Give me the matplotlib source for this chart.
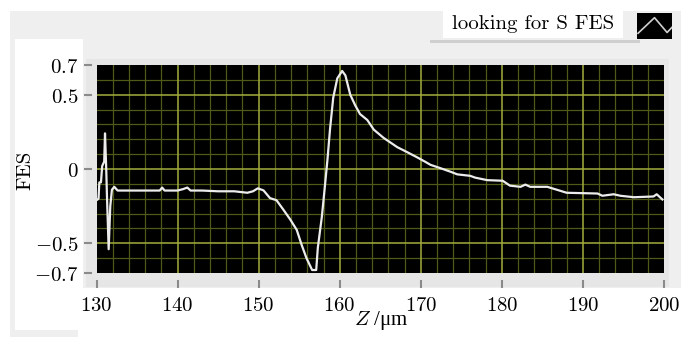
import matplotlib
matplotlib.use("Agg")
import matplotlib.pyplot as plt
from matplotlib.patches import Rectangle
from matplotlib.ticker import MultipleLocator, FixedLocator

plt.rcParams['mathtext.fontset'] = 'cm'

# Focus error signal scan
z_um = [130.0, 130.25, 130.35, 130.55, 130.7, 130.95, 131.05, 131.2, 131.3, 131.5,
        131.7, 131.9, 132.2, 132.6, 134.0, 136.0, 137.8, 138.1, 138.4, 140.0,
        140.7, 141.2, 141.6, 143.0, 145.0, 147.0, 148.6, 149.3, 149.9, 150.6,
        151.4, 152.2, 153.0, 153.9, 154.7, 155.3, 155.9, 156.6, 157.1, 157.3,
        157.8, 158.2, 158.5, 158.8, 159.2, 159.7, 160.3, 160.7, 161.3, 161.9,
        162.5, 163.4, 164.2, 165.4, 167.1, 168.3, 169.5, 170.5, 171.2, 172.4,
        173.7, 174.5, 176.1, 176.7, 178.2, 180.1, 181.0, 182.3, 182.9, 183.5,
        185.6, 186.8, 188.0, 191.8, 192.4, 193.8, 194.6, 196.3, 198.7, 199.1,
        199.8]
fes = [-0.21, -0.20, -0.09, -0.09, 0.02, 0.05, 0.24, 0.0, -0.20, -0.54,
       -0.25, -0.14, -0.12, -0.145, -0.145, -0.145, -0.145, -0.125, -0.145, -0.145,
       -0.135, -0.125, -0.145, -0.145, -0.15, -0.15, -0.16, -0.15, -0.13, -0.144,
       -0.196, -0.21, -0.27, -0.34, -0.41, -0.51, -0.60, -0.68, -0.68, -0.53,
       -0.32, -0.10, 0.07, 0.265, 0.48, 0.61, 0.66, 0.63, 0.50, 0.43,
       0.37, 0.33, 0.265, 0.21, 0.147, 0.114, 0.08, 0.05, 0.028, 0.006,
       -0.019, -0.036, -0.046, -0.058, -0.075, -0.079, -0.112, -0.12, -0.105, -0.12,
       -0.12, -0.14, -0.16, -0.165, -0.18, -0.17, -0.18, -0.19, -0.185, -0.17,
       -0.205]

x_ticks = [130, 140, 150, 160, 170, 180, 190, 200]
y_ticks = [-0.7, -0.5, 0, 0.5, 0.7]
y_tick_labels = [r'$-0.7$', r'$-0.5$', r'$0$', r'$0.5$', r'$0.7$']
legend_text = 'looking for S FES'

W, H = 681, 337
fig = plt.figure(figsize=(W / 100, H / 100), dpi=100, facecolor='white')


def px_rect(x0, y0, x1, y1, color):
    """Rectangle given in pixel coordinates with origin at the top left."""
    fig.patches.append(Rectangle((x0 / W, 1 - y1 / H), (x1 - x0) / W, (y1 - y0) / H,
                                 transform=fig.transFigure, facecolor=color,
                                 edgecolor='none', zorder=-5))


# panel backgrounds
px_rect(10, 11, 681, 288, '#efefef')
px_rect(10, 11, 15, 337, '#efefef')
px_rect(10, 330, 78, 337, '#efefef')
px_rect(15, 39, 83, 330, 'white')
px_rect(86, 59, 669, 287, '#e6e6e6')
# legend box with shadow
px_rect(430, 40, 640, 43, '#cfcfcf')
px_rect(443, 10, 623, 38, 'white')

ax = fig.add_axes([96.5 / W, 1 - 273 / H, (664 - 96.5) / W, (273 - 65) / H])
ax.set_zorder(2)
ax.set_facecolor('black')
ax.plot(z_um, fes, color='#ececec', lw=1.6, zorder=3)

ax.set_xlim(130, 200)
ax.set_ylim(-0.7, 0.7)

# grid: fine olive lines, brighter lines at the labelled values
ax.xaxis.set_minor_locator(MultipleLocator(2))
ax.yaxis.set_minor_locator(MultipleLocator(0.1))
ax.grid(which='minor', color='#4d5a18', lw=0.9)
for xv in x_ticks[1:-1]:
    ax.axvline(xv, color='#a3ad3c', lw=1.1, zorder=1)
for yv in [-0.5, 0, 0.5]:
    ax.axhline(yv, color='#a3ad3c', lw=1.1, zorder=1)
ax.set_axisbelow(True)

for s in ax.spines.values():
    s.set_visible(False)
ax.spines['left'].set_position(('outward', 3))
ax.spines['bottom'].set_position(('outward', 5))

ax.xaxis.set_major_locator(FixedLocator(x_ticks))
ax.set_xticklabels([rf'${v}$' for v in x_ticks])
ax.yaxis.set_major_locator(FixedLocator(y_ticks))
ax.set_yticklabels(y_tick_labels)
ax.tick_params(which='minor', length=0)
ax.tick_params(axis='x', which='major', direction='out', length=5.5, width=1.5,
               color='#8a8a8a', pad=5, labelsize=15)
ax.tick_params(axis='y', which='major', direction='out', length=6, width=1.5,
               color='#8a8a8a', pad=4, labelsize=15)

fig.text(25.5 / W, 1 - 170 / H, 'FES', rotation=90, ha='center', va='center',
         fontsize=15, family='cmr10')
fig.text(381 / W, 1 - 321 / H, r'$Z$ /μm', ha='center', va='center',
         fontsize=15, family='Liberation Serif')

# legend label and line glyph
fig.text(452 / W, 1 - 24 / H, legend_text, ha='left', va='center',
         fontsize=15, family='cmr10')
icon = fig.add_axes([637 / W, 1 - 39 / H, 35 / W, 26 / H])
icon.set_zorder(2)
icon.set_facecolor('black')
icon.plot([0.03, 0.5, 0.86, 1.0], [0.22, 0.82, 0.25, 0.45], color='#d0d0d0', lw=1.2)
icon.set_xlim(0, 1)
icon.set_ylim(0, 1)
icon.set_xticks([])
icon.set_yticks([])
for s in icon.spines.values():
    s.set_visible(False)

fig.savefig('out.png', dpi=100, facecolor='white')
